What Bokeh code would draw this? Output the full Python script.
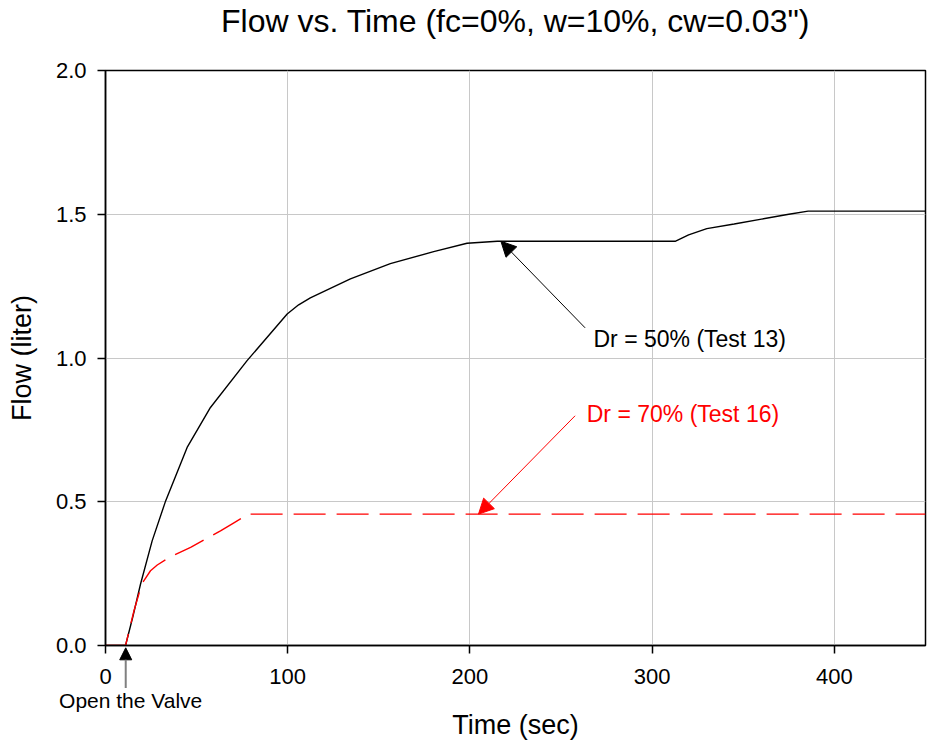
from bokeh.plotting import figure
from bokeh.layouts import column
from bokeh.models import (Range1d, FixedTicker, NumeralTickFormatter, Arrow,
                          NormalHead, Label, ColumnDataSource)
from bokeh.embed import file_html
from bokeh.resources import INLINE

# ---- data ----
t13 = [0, 11, 15, 19.2, 25.6, 33, 44.8, 57.6, 77.7, 99.7, 106, 112.4, 134.4,
       156.3, 180.1, 198.4, 215, 312.6, 320, 330, 345, 360, 375, 385.6, 450]
f13 = [0, 0, 0.10, 0.213, 0.364, 0.503, 0.689, 0.828, 0.991, 1.153, 1.185,
       1.209, 1.275, 1.328, 1.370, 1.399, 1.406, 1.406, 1.428, 1.450, 1.466,
       1.483, 1.500, 1.511, 1.511]

t16 = [0, 11, 15.6, 19.5, 21, 24.7, 28.4, 34.8, 46.7, 63.1, 70, 78.6, 450]
f16 = [0, 0, 0.12, 0.205, 0.225, 0.26, 0.28, 0.306, 0.341, 0.399, 0.425,
       0.457, 0.457]

x_ticks = [0, 100, 200, 300, 400]
y_ticks = [0, 0.5, 1.0, 1.5, 2.0]

title_text = 'Flow vs. Time (fc=0%, w=10%, cw=0.03")'
label13 = "Dr = 50% (Test 13)"
label16 = "Dr = 70% (Test 16)"
valve_text = "Open the Valve"
valve_time = 11.1      # time at which the valve is opened

FONT = "Liberation Sans"
W, H = 931, 744
LEFT, RIGHT, TOP, BOTTOM = 105, 6, 70, 99
X0, X1, Y0, Y1 = 0, 450, 0, 2

# ---------------- main chart ----------------
p = figure(width=W, height=H, x_range=Range1d(X0, X1), y_range=Range1d(Y0, Y1),
           output_backend="svg", toolbar_location=None,
           min_border_left=LEFT, min_border_right=RIGHT, min_border_top=TOP,
           min_border_bottom=BOTTOM)

p.outline_line_color = "black"
p.outline_line_width = 1.5
p.background_fill_color = "white"
p.border_fill_color = "white"

xax = p.xaxis[0]
yax = p.yaxis[0]
for ax in (xax, yax):
    ax.axis_line_color = "black"
    ax.axis_line_width = 1.5
    ax.major_tick_line_color = "black"
    ax.major_tick_line_width = 1.5
    ax.major_tick_out = 8
    ax.major_tick_in = 0
    ax.minor_tick_line_color = None
    ax.major_label_text_font = FONT
    ax.major_label_text_font_size = "22px"
    ax.major_label_text_color = "black"
    ax.axis_label_text_font = FONT
    ax.axis_label_text_font_size = "27px"
    ax.axis_label_text_font_style = "normal"
    ax.axis_label_text_color = "black"

xax.ticker = FixedTicker(ticks=x_ticks)
xax.formatter = NumeralTickFormatter(format="0")
yax.ticker = FixedTicker(ticks=y_ticks)
yax.formatter = NumeralTickFormatter(format="0.0")
xax.axis_label = "Time (sec)"
yax.axis_label = "Flow (liter)"
xax.major_label_standoff = 15
xax.axis_label_standoff = 23
yax.major_label_standoff = 11
yax.axis_label_standoff = 16

p.xgrid.grid_line_color = "#c8c8c8"
p.ygrid.grid_line_color = "#c8c8c8"
p.xgrid.grid_line_width = 1
p.ygrid.grid_line_width = 1

src13 = ColumnDataSource(dict(t=t13, f=f13))
src16 = ColumnDataSource(dict(t=t16, f=f16))
p.line("t", "f", source=src13, line_color="black", line_width=1.4)
p.line("t", "f", source=src16, line_color="#ff0000", line_width=1.4,
       line_dash="32 11")

p.add_layout(Arrow(end=NormalHead(size=15, fill_color="black", line_color="black"),
                   x_start=263.2, y_start=1.105, x_end=217.0, y_end=1.406,
                   line_color="black", line_width=1))
p.add_layout(Label(x=267.8, y=1.066, text=label13, text_font=FONT,
                   text_font_size="23px", text_color="black",
                   text_baseline="middle", text_align="left"))

p.add_layout(Arrow(end=NormalHead(size=15, fill_color="#ff0000", line_color="#ff0000"),
                   x_start=257.7, y_start=0.799, x_end=204.7, y_end=0.457,
                   line_color="#ff0000", line_width=1))
p.add_layout(Label(x=264.1, y=0.805, text=label16, text_font=FONT,
                   text_font_size="23px", text_color="#ff0000",
                   text_baseline="middle", text_align="left"))

# ------- transparent overlay with the same data scales over the whole page -------
fw, fh = W - LEFT - RIGHT, H - TOP - BOTTOM
sx, sy = (X1 - X0) / fw, (Y1 - Y0) / fh
q = figure(width=W, height=H,
           x_range=Range1d(X0 - LEFT * sx, X1 + RIGHT * sx),
           y_range=Range1d(Y0 - BOTTOM * sy, Y1 + TOP * sy),
           output_backend="svg", toolbar_location=None,
           min_border_left=0, min_border_right=0, min_border_top=0,
           min_border_bottom=0, x_axis_location=None, y_axis_location=None,
           margin=(-H, 0, 0, 0))
try:
    q.frame_align = False
except AttributeError:
    pass
q.outline_line_color = None
q.background_fill_color = None
q.border_fill_color = None
q.grid.visible = False

q.add_layout(Label(x=(X0 + X1) / 2, y=Y1 + 49.5 * sy, text=title_text, text_font=FONT,
                   text_font_size="32px", text_color="black",
                   text_baseline="middle", text_align="center"))

q.add_layout(Arrow(end=NormalHead(size=12, fill_color="black", line_color="black"),
                   x_start=valve_time, y_start=-0.148, x_end=valve_time, y_end=-0.008,
                   line_color="#808080", line_width=2))
q.add_layout(Label(x=13.8, y=Y0 - 55 * sy, text=valve_text, text_font=FONT,
                   text_font_size="21px", text_color="black",
                   text_baseline="middle", text_align="center"))

layout = column(p, q, spacing=0)
open("out.html", "w").write(file_html(layout, INLINE))
